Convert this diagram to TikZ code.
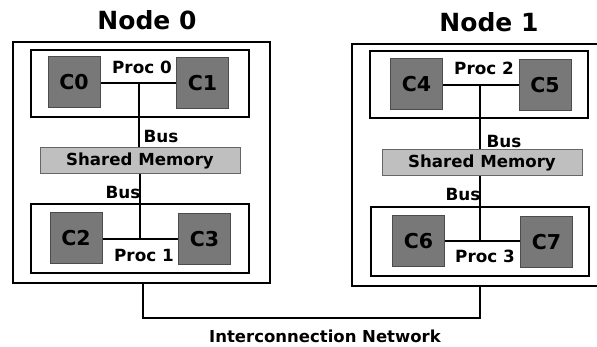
\documentclass[tikz,border=0pt]{standalone}
\usepackage{fontspec}
\setmainfont{DejaVu Sans}
\usepackage{tikz}
\usetikzlibrary{positioning,calc}

\tikzset{
  nodebox/.style={draw, line width=2pt, rectangle, inner sep=0pt},
  procbox/.style={draw, line width=2pt, rectangle, fill=white, inner sep=0pt, minimum width=218pt},
  core/.style={draw=black!70, line width=1pt, fill=black!53, inner sep=0pt, minimum width=52pt, minimum height=51pt, font=\fontsize{20.5}{22}\selectfont\bfseries},
  shmem/.style={draw=black!60, line width=1pt, fill=black!25, inner sep=0pt, minimum width=200pt, minimum height=26pt, font=\fontsize{16.6}{18}\selectfont\bfseries},
  lbl/.style={inner sep=0pt, font=\fontsize{16.8}{18}\selectfont\bfseries},
  wire/.style={line width=2pt}
}

\begin{document}
\begin{tikzpicture}[x=1pt, y=-1pt]
  \useasboundingbox (0,0) rectangle (597,347);

  \node[lbl, font=\fontsize{25}{28}\selectfont\bfseries] at (147, 20) (title0) {Node 0};
  \node[lbl, font=\fontsize{25}{28}\selectfont\bfseries] at (489, 22) (title1) {Node 1};

  \node[nodebox, minimum width=257pt, minimum height=241pt] at (141.5, 162.5) (node0) {};
  \node[nodebox, minimum width=253pt, minimum height=242pt] at (478.5, 165) (node1) {};

  \node[procbox, minimum height=67pt] at (140, 83.5) (proc0) {};
  \node[procbox, minimum height=69pt] at (140, 238.5) (proc1) {};
  \node[procbox, minimum height=67pt] at (479, 84.5) (proc2) {};
  \node[procbox, minimum height=69pt] at (479.5, 241.5) (proc3) {};

  \node[core] at (74, 82.5) (c0) {C0};
  \node[core] at (202.5, 83.5) (c1) {C1};
  \node[core] at (76, 238) (c2) {C2};
  \node[core] at (204.5, 239.5) (c3) {C3};
  \node[core] at (416.5, 84) (c4) {C4};
  \node[core] at (545, 85) (c5) {C5};
  \node[core] at (418.5, 241) (c6) {C6};
  \node[core] at (546.5, 242) (c7) {C7};

  \node[shmem] at (140, 161) (mem0) {Shared Memory};
  \node[shmem] at (482, 163) (mem1) {Shared Memory};

  \node[lbl] at (142, 67) (p0) {Proc 0};
  \node[lbl] at (144, 255) (p1) {Proc 1};
  \node[lbl] at (484, 68) (p2) {Proc 2};
  \node[lbl] at (485, 256) (p3) {Proc 3};

  \node[lbl] at (161, 136) (bus0) {Bus};
  \node[lbl] at (123, 192) (bus1) {Bus};
  \node[lbl] at (504, 141) (bus2) {Bus};
  \node[lbl] at (463, 194) (bus3) {Bus};

  \node[lbl, font=\fontsize{16.5}{18}\selectfont\bfseries] at (325, 336.5) (net) {Interconnection Network};

  \coordinate (j0) at (139, 83);
  \coordinate (j1) at (140, 239);
  \coordinate (j2) at (480, 85);
  \coordinate (j3) at (480, 241);
  \coordinate (net0) at (143, 318);
  \coordinate (net1) at (480, 318);

  \draw[wire] (c0.east |- j0) -- (c1.west |- j0);
  \draw[wire] (c2.east |- j1) -- (c3.west |- j1);
  \draw[wire] (c4.east |- j2) -- (c5.west |- j2);
  \draw[wire] (c6.east |- j3) -- (c7.west |- j3);

  \draw[wire] (j0) -- (mem0.north -| j0);
  \draw[wire] (mem0.south -| j1) -- (j1);
  \draw[wire] (j2) -- (mem1.north -| j2);
  \draw[wire] (mem1.south -| j3) -- (j3);

  \draw[wire] (node0.south -| net0) -- (net0) -- (net1) -- (node1.south -| net1);
\end{tikzpicture}
\end{document}
